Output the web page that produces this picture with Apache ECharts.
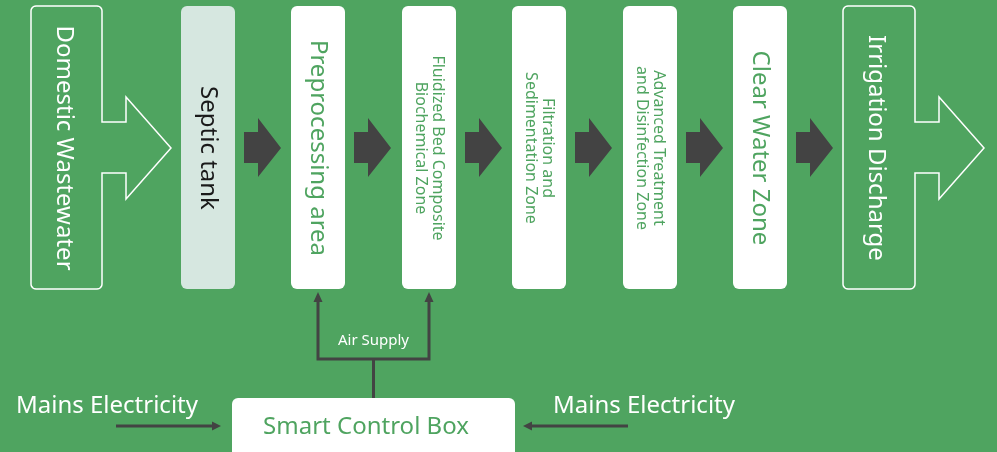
<!DOCTYPE html>
<html><head><meta charset="utf-8">
<script src="https://cdn.jsdelivr.net/npm/echarts@6/dist/echarts.min.js"></script>
<style>html,body{margin:0;padding:0;background:#4fa460;overflow:hidden}#c{width:997px;height:452px}</style>
</head><body><div id="c"></div>
<script>
// ---- content ----
const stageLabels = ['Septic tank', 'Preprocessing area', 'Fluidized Bed Composite\nBiochemical Zone', 'Filtration and\nSedimentation Zone', 'Advanced Treatment\nand Disinfection Zone', 'Clear Water Zone'];
const stageLarge = [true, true, false, false, false, true];
const endLabels = ['Domestic Wastewater', 'Irrigation Discharge'];
const aeratedStages = [1, 2];
const controlLabel = 'Smart Control Box';
const airLabel = 'Air Supply';
const powerLabel = 'Mains Electricity';

// ---- layout / style ----
const GREEN = '#4fa460', DARK = '#434343', FONT = '"Noto Sans", sans-serif';
const chart = echarts.init(document.getElementById('c'), null, {renderer: 'canvas'});
const els = [];
els.push({type: 'rect', shape: {x: 0, y: 0, width: 997, height: 452}, style: {fill: GREEN}, silent: true});

const TOP = 6, BOT = 289, MID = 148, BW = 54, STEP = 110.4, X0 = 181;

function corner(cx, cy, r, a0, a1) {
  const pts = [];
  for (let k = 0; k <= 6; k++) {
    const a = a0 + (a1 - a0) * k / 6;
    pts.push([cx + r * Math.cos(a), cy + r * Math.sin(a)]);
  }
  return pts;
}
function endShape(x0, x1, label) {
  const r = 5, s = x1 + 24, t = x1 + 69, P = Math.PI;
  const pts = [].concat(
    corner(x1 - r, TOP + r, r, -P / 2, 0),
    [[x1, 122], [s, 122], [s, 97], [t, MID], [s, 199], [s, 173], [x1, 173]],
    corner(x1 - r, BOT - r, r, 0, P / 2),
    corner(x0 + r, BOT - r, r, P / 2, P),
    corner(x0 + r, TOP + r, r, P, 1.5 * P)
  );
  els.push({type: 'polygon', shape: {points: pts}, style: {fill: 'none', stroke: '#fff', lineWidth: 1.5}});
  els.push({type: 'text', x: (x0 + x1) / 2 - 3, y: MID, rotation: -Math.PI / 2,
    style: {text: label, fill: '#fff', font: '24px ' + FONT, align: 'center', verticalAlign: 'middle'}});
}
endShape(31, 102, endLabels[0]);
endShape(843, 915, endLabels[1]);

stageLabels.forEach((lab, i) => {
  const x = Math.round(X0 + i * STEP);
  const septic = i === 0;
  els.push({type: 'rect', shape: {x: x, y: TOP, width: BW, height: BOT - TOP, r: 6},
    style: {fill: septic ? '#d6e7e0' : '#fff'}});
  els.push({type: 'text', x: x + BW / 2, y: MID, rotation: -Math.PI / 2,
    style: {text: lab, fill: septic ? '#1a1a1a' : GREEN, font: (stageLarge[i] ? '24px ' : '16px ') + FONT,
      align: 'center', verticalAlign: 'middle', lineHeight: stageLarge[i] ? 28 : 17}});
  const a = x + BW + 9;
  els.push({type: 'polygon', shape: {points: [[a, 132], [a + 14, 132], [a + 14, 118], [a + 37, MID], [a + 14, 177], [a + 14, 163], [a, 163]]},
    style: {fill: DARK}});
});

// air supply connectors
const ax = aeratedStages.map(i => Math.round(X0 + i * STEP) + BW / 2);
const hy = 359, cx = (ax[0] + ax[1]) / 2;
els.push({type: 'polyline', shape: {points: [[ax[0], 301], [ax[0], hy], [ax[1], hy], [ax[1], 301]]},
  style: {stroke: DARK, lineWidth: 3, fill: 'none'}});
els.push({type: 'line', shape: {x1: cx, y1: hy, x2: cx, y2: 398}, style: {stroke: DARK, lineWidth: 3}});
ax.forEach(x => els.push({type: 'polygon', shape: {points: [[x, 292], [x - 4.5, 302], [x + 4.5, 302]]}, style: {fill: DARK}}));
els.push({type: 'text', x: cx, y: 341, style: {text: airLabel, fill: '#fff', font: '15px ' + FONT, align: 'center', verticalAlign: 'middle'}});

// control box
els.push({type: 'rect', shape: {x: 232, y: 398, width: 283, height: 70, r: 6}, style: {fill: '#fff'}});
els.push({type: 'text', x: 366, y: 427, style: {text: controlLabel, fill: GREEN, font: '24px ' + FONT, align: 'center', verticalAlign: 'middle'}});

// mains electricity
els.push({type: 'text', x: 107, y: 406, style: {text: powerLabel, fill: '#fff', font: '24px ' + FONT, align: 'center', verticalAlign: 'middle'}});
els.push({type: 'text', x: 644, y: 406, style: {text: powerLabel, fill: '#fff', font: '24px ' + FONT, align: 'center', verticalAlign: 'middle'}});
els.push({type: 'line', shape: {x1: 116, y1: 426, x2: 214, y2: 426}, style: {stroke: DARK, lineWidth: 3}});
els.push({type: 'polygon', shape: {points: [[221, 426], [212, 421.5], [212, 430.5]]}, style: {fill: DARK}});
els.push({type: 'line', shape: {x1: 628, y1: 426, x2: 530, y2: 426}, style: {stroke: DARK, lineWidth: 3}});
els.push({type: 'polygon', shape: {points: [[523, 426], [532, 421.5], [532, 430.5]]}, style: {fill: DARK}});

chart.setOption({animation: false, graphic: {elements: els}});
</script></body></html>
